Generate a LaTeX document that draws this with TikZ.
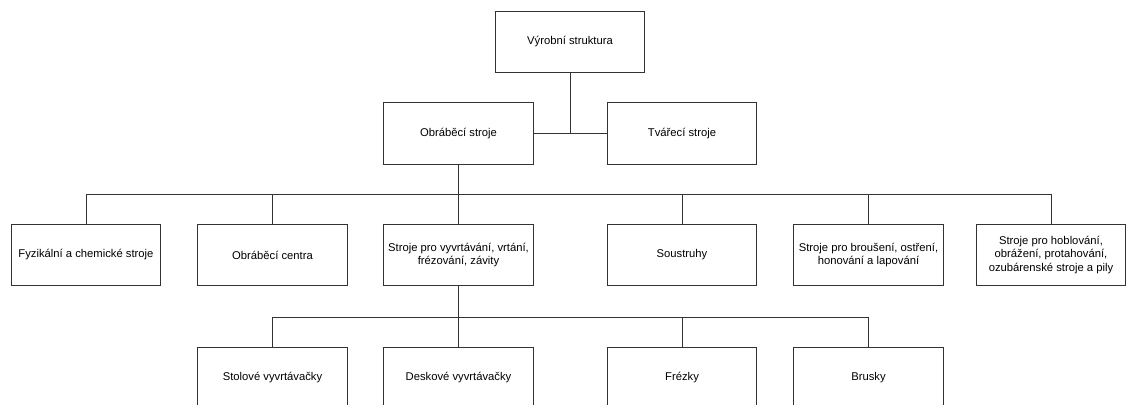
\documentclass[tikz,border=0pt]{standalone}
\usepackage{fontspec}
\setmainfont{Liberation Sans}
\usepackage{tikz}

\tikzset{
  unit/.style={draw=black!80, line width=0.7pt, fill=white, minimum width=3.725cm,
    minimum height=1.525cm, align=center, font=\fontsize{8}{9.6}\selectfont, inner sep=2pt},
  link/.style={draw=black!80, line width=0.7pt}
}

\begin{document}
\begin{tikzpicture}[x=0.025cm, y=-0.025cm]
        \useasboundingbox (0,0) rectangle (1126,405);
        \clip (0,0) rectangle (1126,405);
        % top level
        \node[unit] (vyr) at (570,42) {Výrobní struktura};
        \node[unit] (obr) at (458.5,133.5) {Obráběcí stroje};
        \node[unit] (tva) at (682,133.5) {Tvářecí stroje};
        % machine groups
        \node[unit] (fyz) at (86,255) {Fyzikální a chemické stroje};
        \node[unit] (cen) at (272.5,255) {Obráběcí centra};
        \node[unit] (vyv) at (458.5,255) {Stroje pro vyvrtávání, vrtání,\\frézování, závity};
        \node[unit] (sou) at (682,255) {Soustruhy};
        \node[unit] (bro) at (868.5,255) {Stroje pro broušení, ostření,\\honování a lapování};
        \node[unit] (hob) at (1051,255) {Stroje pro hoblování,\\obrážení, protahování,\\ozubárenské stroje a pily};
        % bottom row
        \node[unit] (sto) at (272.5,378) {Stolové vyvrtávačky};
        \node[unit] (des) at (458.5,378) {Deskové vyvrtávačky};
        \node[unit] (fre) at (682,378) {Frézky};
        \node[unit] (bru) at (868.5,378) {Brusky};
        % connectors
        \draw[link] (vyr.south) -- (vyr.south |- obr.east);
        \draw[link] (obr.east) -- (tva.west);
        \coordinate (bus1) at (458.5,194);
        \draw[link] (obr.south) -- (bus1);
        \foreach \n in {fyz,cen,vyv,sou,bro,hob} \draw[link] (bus1) -| (\n.north);
        \coordinate (bus2) at (458.5,317);
        \draw[link] (vyv.south) -- (bus2);
        \foreach \n in {sto,des,fre,bru} \draw[link] (bus2) -| (\n.north);
    \end{tikzpicture}
\end{document}
